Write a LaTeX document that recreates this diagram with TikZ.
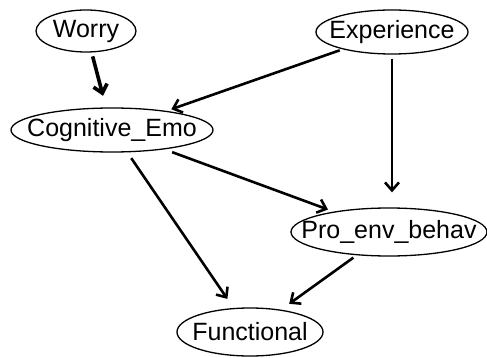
\documentclass[tikz,border=0pt]{standalone}
\usepackage{fontspec}
\setmainfont{Liberation Sans}
\usetikzlibrary{arrows.meta,shapes.geometric}
\newcommand{\zlbl}[1]{\makebox[0pt]{#1}}
\tikzset{
  var/.style={draw, ellipse, line width=1.3pt, inner sep=0pt, font=\fontsize{25}{30}\selectfont},
  edge/.style={draw, line width=2.6pt, -{Straight Barb[length=8pt,width=14pt,line width=2.6pt]}, shorten <=4pt, shorten >=10pt}
}
\begin{document}
\begin{tikzpicture}[x=1pt,y=-1pt]
\useasboundingbox (0,0) rectangle (487,358);
\node[var, minimum width=100pt, minimum height=42pt] (worry) at (86,31) {\zlbl{Worry}};
\node[var, minimum width=152pt, minimum height=44pt] (exp) at (392,32) {\zlbl{Experience}};
\node[var, minimum width=202pt, minimum height=44pt] (cog) at (112,130) {\zlbl{Cognitive\_Emo}};
\node[var, minimum width=196pt, minimum height=48pt] (pro) at (389,232) {\zlbl{Pro\_env\_behav}};
\node[var, minimum width=146pt, minimum height=48pt] (fun) at (250,332) {\zlbl{Functional}};
\draw[edge, line width=3.6pt, -{Straight Barb[length=8pt,width=14pt,line width=3.6pt]}, shorten >=12pt] (worry) -- (cog);
\draw[edge, shorten >=5pt, shorten <=3pt] (exp) -- (cog);
\draw[edge, shorten >=15pt] (exp.south) -- (exp.south |- pro.north);
\draw[edge, shorten <=8pt, shorten >=6pt] (cog) -- (pro);
\draw[edge, shorten <=7pt, shorten >=11pt] (cog) -- (fun);
\draw[edge, shorten >=10pt] (pro) -- (fun);
\end{tikzpicture}
\end{document}
